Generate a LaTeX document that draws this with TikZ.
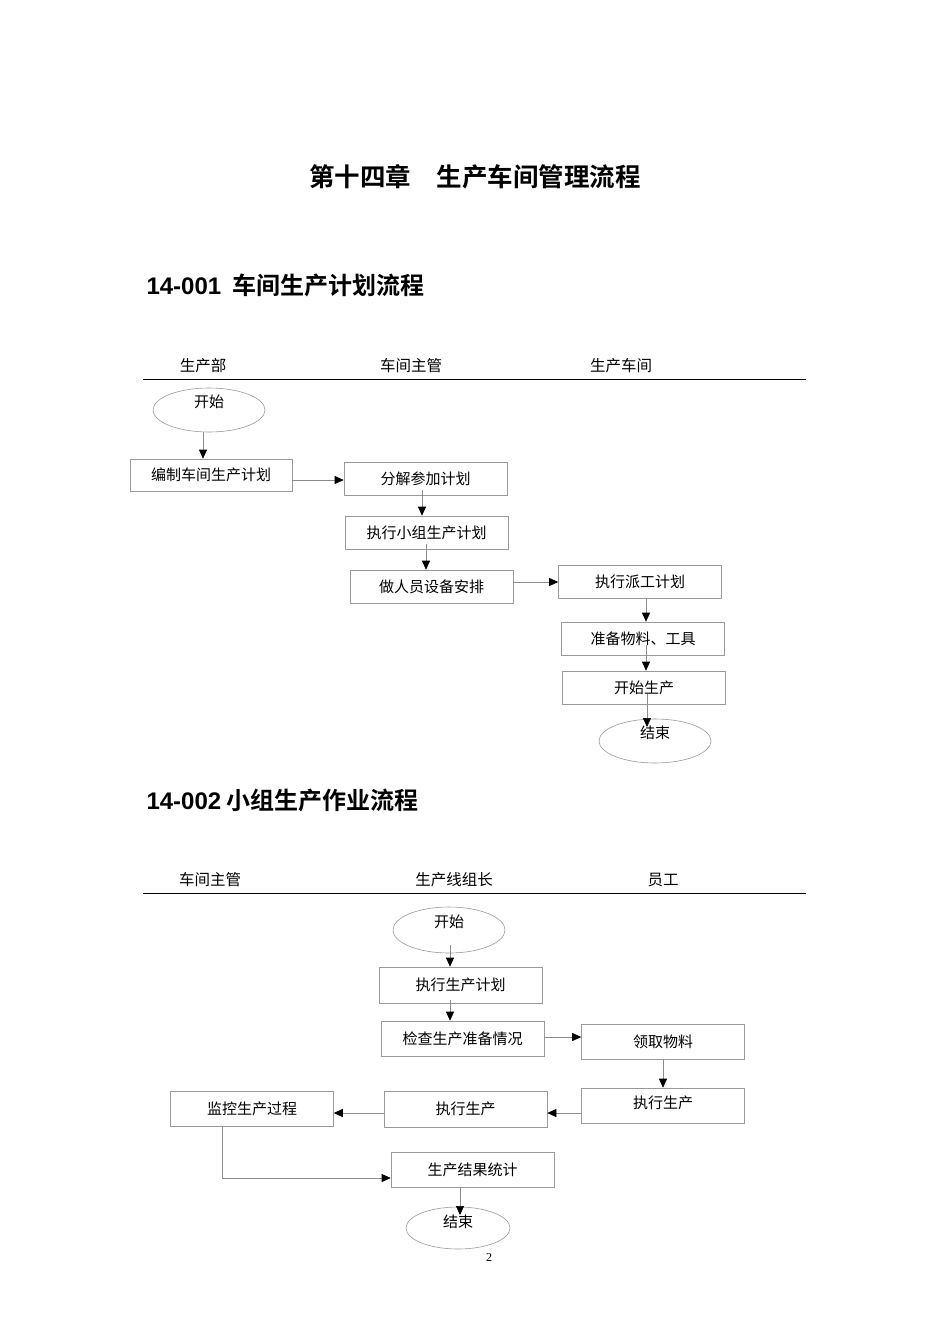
\documentclass[tikz,border=0pt]{standalone}
\usepackage{fontspec}
\setmainfont{Noto Sans CJK SC}
\newfontfamily\cjkb{Noto Sans CJK SC Bold}
\newfontfamily\serifnum{Liberation Serif}
\newfontfamily\arialb{Liberation Sans Bold}
\usetikzlibrary{arrows.meta,shapes.geometric}
\begin{document}
\begin{tikzpicture}[x=1pt,y=-1pt,
  box/.style={draw=black!40,line width=0.6pt,minimum width=163pt,minimum height=33pt,inner sep=0pt,font=\fontsize{15}{17}\selectfont},
  oval/.style={draw=black!40,line width=0.6pt,ellipse,minimum width=112pt,minimum height=44pt,inner sep=0pt,font=\fontsize{15}{17}\selectfont},
  hdr/.style={font=\fontsize{15.5}{17}\selectfont},
  arr/.style={draw=black!45,line width=0.6pt,-{Triangle[length=9pt,width=8pt,fill=black,color=black]}}]
\useasboundingbox (0,0) rectangle (950,1344);
\node[font=\cjkb\fontsize{25.5}{28}\selectfont] (t0) at (475,177) {第十四章\quad 生产车间管理流程};
\node[font=\cjkb\fontsize{24}{26}\selectfont,anchor=west] (t1) at (143,285) {{\arialb 14-001}\ \ 车间生产计划流程};
\node[font=\cjkb\fontsize{24}{26}\selectfont,anchor=west] (t2) at (143,800) {{\arialb 14-002} 小组生产作业流程};
% chart 1
\node[hdr] (h1) at (203,366) {生产部};
\node[hdr] (h2) at (411,366) {车间主管};
\node[hdr] (h3) at (621,366) {生产车间};
\draw[line width=1pt] (143,379) coordinate (l1a) -- (806,379) coordinate (l1b);
\node[oval] (s1) at (209,410) {};
\node[font=\fontsize{15}{17}\selectfont] (s1t) at (209,402) {开始};
\node[box,minimum width=162pt,minimum height=32pt] (A) at (211,475) {编制车间生产计划};
\node[box] (B) at (425.5,478.5) {分解参加计划};
\node[box] (C) at (426.5,532.5) {执行小组生产计划};
\node[box] (D) at (431.5,586.5) {做人员设备安排};
\node[box] (E) at (640,581.5) {执行派工计划};
\node[box] (F) at (643,638.5) {准备物料、工具};
\node[box] (G) at (644,687.5) {开始生产};
\node[oval] (e1) at (655,741) {};
\node[font=\fontsize{15}{17}\selectfont] (e1t) at (655,733) {结束};
\draw[arr] (s1.south -| 203,0) -- (A.north -| 203,0);
\draw[arr] (A.east |- 0,480) -- (B.west |- 0,480);
\draw[arr] (422,490) -- (C.north -| 422,0);
\draw[arr] (426,544) -- (D.north -| 426,0);
\draw[arr] (D.east |- 0,582) -- (E.west |- 0,582);
\draw[arr] (E.south -| 646,0) -- (F.north -| 646,0);
\draw[arr] (646,645) -- (G.north -| 646,0);
\draw[arr] (647,694) -- (647,727);
% chart 2
\node[hdr] (k1) at (210,880) {车间主管};
\node[hdr] (k2) at (454,880) {生产线组长};
\node[hdr] (k3) at (663,880) {员工};
\draw[line width=1pt] (143,893) coordinate (l2a) -- (806,893) coordinate (l2b);
\node[oval,minimum height=46pt] (s2) at (449,930) {};
\node[font=\fontsize{15}{17}\selectfont] (s2t) at (449,922) {开始};
\node[box,minimum height=36pt] (H) at (460.5,985) {执行生产计划};
\node[box,minimum height=35pt] (I) at (462.5,1038.5) {检查生产准备情况};
\node[box,minimum height=35pt] (J) at (663,1041.5) {领取物料};
\node[box,minimum height=35pt] (K) at (663,1105.5) {};
\node[font=\fontsize{15}{17}\selectfont] (Kt) at (663,1103) {执行生产};
\node[box,minimum height=36pt] (L) at (465.5,1109) {执行生产};
\node[box,minimum height=35pt] (M) at (252,1108.5) {监控生产过程};
\node[box,minimum height=35pt] (N) at (472.5,1169.5) {生产结果统计};
\node[oval,minimum width=104pt,minimum height=42pt] (e2) at (458,1228) {};
\node[font=\fontsize{15}{17}\selectfont] (e2t) at (458,1222) {结束};
\draw[arr] (450,945) -- (H.north -| 450,0);
\draw[arr] (450,1000) -- (I.north -| 450,0);
\draw[arr] (I.east |- 0,1037) -- (J.west |- 0,1037);
\draw[arr] (J.south -| 663,0) -- (K.north -| 663,0);
\draw[arr] (K.west |- 0,1113) -- (L.east |- 0,1113);
\draw[arr] (L.west |- 0,1113) -- (M.east |- 0,1113);
\draw[arr] (M.south -| 222,0) -- (222,1178) -- (N.west |- 0,1178);
\draw[arr] (N.south -| 460,0) -- (460,1215);
\node[font=\serifnum\fontsize{12}{14}\selectfont] (pg) at (489,1258) {2};
\end{tikzpicture}
\end{document}
